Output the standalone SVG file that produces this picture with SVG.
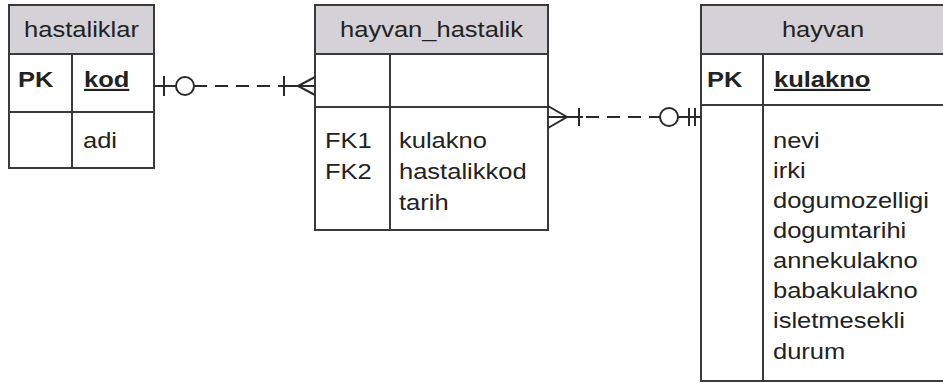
<svg xmlns="http://www.w3.org/2000/svg" width="943" height="385" viewBox="0 0 943 385">
<style>
.box{fill:#fff;stroke:#3a3a3a;stroke-width:2}
.hdr{fill:#d5d2d7;stroke:#3a3a3a;stroke-width:2}
.ln{stroke:#3a3a3a;stroke-width:2;fill:none}
.t{font-family:"Liberation Sans",Arial,sans-serif;font-size:22px;fill:#222}
.b{font-weight:bold}
.c{text-anchor:middle}
.u{text-decoration:underline}
.cn{stroke:#2a2a2a;stroke-width:2;fill:none}
.dash{stroke-dasharray:13 8}
</style>
<rect width="943" height="385" fill="#fff"/>
<g id="hastaliklar">
<rect class="box" x="9" y="5" width="145" height="163"/>
<rect class="hdr" x="9" y="5" width="145" height="49"/>
<line class="ln" x1="9" y1="112" x2="154" y2="112"/>
<line class="ln" x1="72" y1="54" x2="72" y2="168"/>
<text class="t c" transform="matrix(1.16 0 0 1 81.5 37)">hastaliklar</text>
<text class="t b" transform="matrix(1.16 0 0 1 18 87)">PK</text>
<text class="t b u" transform="matrix(1.16 0 0 1 84 87)">kod</text>
<text class="t" transform="matrix(1.16 0 0 1 83 148)">adi</text>
</g>
<g id="hayvan_hastalik">
<rect class="box" x="315" y="5" width="233" height="225"/>
<rect class="hdr" x="315" y="5" width="233" height="49"/>
<line class="ln" x1="315" y1="107" x2="548" y2="107"/>
<line class="ln" x1="390" y1="54" x2="390" y2="230"/>
<text class="t c" transform="matrix(1.16 0 0 1 431.5 37)">hayvan_hastalik</text>
<text class="t" transform="matrix(1.16 0 0 1 325 148)">FK1</text>
<text class="t" transform="matrix(1.16 0 0 1 325 179)">FK2</text>
<text class="t" transform="matrix(1.16 0 0 1 399 148)">kulakno</text>
<text class="t" transform="matrix(1.16 0 0 1 399 179)">hastalikkod</text>
<text class="t" transform="matrix(1.16 0 0 1 399 210)">tarih</text>
</g>
<g id="hayvan">
<rect class="box" x="701" y="5" width="245" height="376"/>
<rect class="hdr" x="701" y="5" width="245" height="49"/>
<line class="ln" x1="701" y1="105" x2="946" y2="105"/>
<line class="ln" x1="763" y1="54" x2="763" y2="381"/>
<text class="t c" transform="matrix(1.16 0 0 1 823 37)">hayvan</text>
<text class="t b" transform="matrix(1.16 0 0 1 707 87)">PK</text>
<text class="t b u" transform="matrix(1.16 0 0 1 774 87)">kulakno</text>
<text class="t" transform="matrix(1.16 0 0 1 773 148)">nevi</text>
<text class="t" transform="matrix(1.16 0 0 1 773 178)">irki</text>
<text class="t" transform="matrix(1.16 0 0 1 773 208)">dogumozelligi</text>
<text class="t" transform="matrix(1.16 0 0 1 773 238)">dogumtarihi</text>
<text class="t" transform="matrix(1.16 0 0 1 773 268)">annekulakno</text>
<text class="t" transform="matrix(1.16 0 0 1 773 298)">babakulakno</text>
<text class="t" transform="matrix(1.16 0 0 1 773 328)">isletmesekli</text>
<text class="t" transform="matrix(1.16 0 0 1 773 359)">durum</text>
</g>
<g id="connectors">
<g id="c1">
<line class="cn" x1="154" y1="86" x2="176" y2="86"/>
<line class="cn" x1="164" y1="76" x2="164" y2="96"/>
<circle class="cn" cx="185" cy="86" r="9"/>
<line class="cn dash" x1="194" y1="86" x2="282" y2="86"/>
<line class="cn" x1="282" y1="86" x2="315" y2="86"/>
<line class="cn" x1="284" y1="76" x2="284" y2="96"/>
<polyline class="cn" points="315,77 298,86 315,95"/>
</g>
<g id="c2">
<line class="cn" x1="548" y1="117" x2="583" y2="117"/>
<polyline class="cn" points="548,106 567,117 548,128"/>
<line class="cn" x1="579" y1="108" x2="579" y2="126"/>
<line class="cn dash" x1="586" y1="117" x2="660" y2="117"/>
<circle class="cn" cx="669" cy="117" r="9"/>
<line class="cn" x1="678" y1="117" x2="701" y2="117"/>
<line class="cn" x1="689" y1="108" x2="689" y2="126"/>
<line class="cn" x1="695" y1="108" x2="695" y2="126"/>
</g>
</g>
</svg>
